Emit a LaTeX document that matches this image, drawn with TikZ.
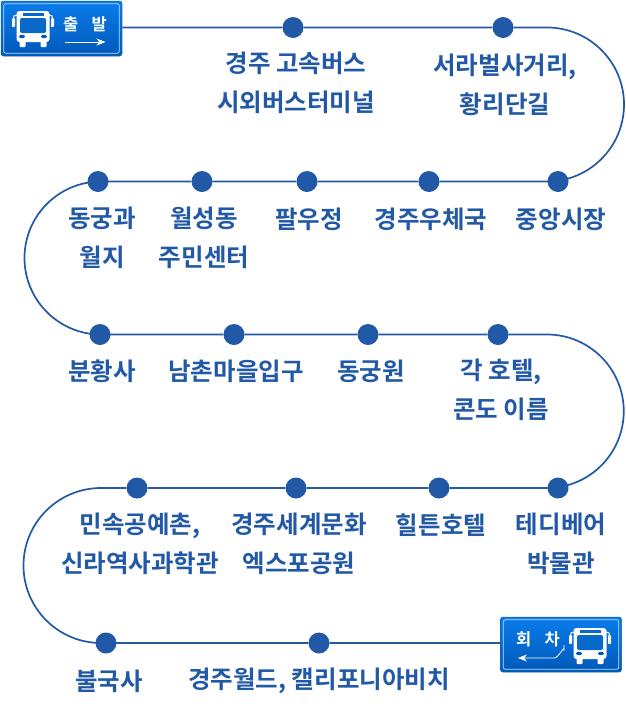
\documentclass[tikz,border=0pt]{standalone}
\usepackage{fontspec}
\setmainfont{Noto Sans CJK KR}[BoldFont={* Bold}]
\usepackage{xcolor}
\usetikzlibrary{arrows.meta}
\definecolor{routeblue}{HTML}{2259A6}
\definecolor{boxtop}{HTML}{0A7CEC}
\definecolor{boxbottom}{HTML}{0059B8}
\tikzstyle{route} = [draw=routeblue, line width=1.7pt]
\tikzstyle{stopdot} = [circle, fill=routeblue, minimum size=21pt, inner sep=0]
\tikzstyle{stoplabel} = [text=routeblue, font=\fontsize{24.5}{38.5}\selectfont\bfseries, align=center, inner sep=0]
\tikzstyle{busbox} = [rectangle, rounded corners=2.5pt, top color=boxtop, bottom color=boxbottom, draw=boxtop!80!black, line width=0.5pt, minimum width=121pt, minimum height=55pt]
\tikzstyle{boxline} = [draw=white!75!boxtop, line width=0.7pt, rounded corners=2pt]
\tikzstyle{boxlabel} = [text=white, font=\fontsize{16.5}{16.5}\selectfont\bfseries, inner sep=0]
\tikzstyle{boxarrow} = [draw=white, line width=0.8pt, -{Stealth[length=9pt,width=7pt]}]
\tikzset{
  busicon/.pic={
    \fill[white, rounded corners=3pt] (-16.5,-18) rectangle (16.5,13);
    \fill[white, rounded corners=1pt] (-13.5,10) rectangle (-7.5,18);
    \fill[white, rounded corners=1pt] (7.5,10) rectangle (13.5,18);
    \fill[boxtop!85!black, rounded corners=2pt] (-13,-11) rectangle (13,4);
    \fill[boxtop!85!black] (-10.5,-16) rectangle (10.5,-13);
    \fill[boxbottom] (-11,7.5) ellipse (3 and 1.7);
    \fill[boxbottom] (11,7.5) ellipse (3 and 1.7);
    \draw[white, line width=1pt] (-16,-14) -- (-19,-13) -- (-19.5,-10);
    \draw[white, line width=1pt] (16,-14) -- (19,-13) -- (19.5,-10);
    \fill[white, rounded corners=1pt] (-21,-11) rectangle (-18,-2);
    \fill[white, rounded corners=1pt] (18,-11) rectangle (21,-2);
  }
}
\begin{document}
\begin{tikzpicture}[x=1pt, y=-1pt]
\useasboundingbox (0,0) rectangle (626,721);
% start and end boxes
\node [busbox] (depart) at (61.5,28.5) {};
\node [busbox] (turn) at (561,644.5) {};
\draw [boxline] ([shift={(3,3)}]depart.north west) rectangle ([shift={(-3,-3)}]depart.south east);
\draw [boxline] ([shift={(3,3)}]turn.north west) rectangle ([shift={(-3,-3)}]turn.south east);
\pic at (33,29) {busicon};
\pic at (590,646) {busicon};
\node [boxlabel] (departtext) at (85,24.5) {출\hspace{0.8em}발};
\node [boxlabel] (turntext) at (538,639) {회\hspace{0.8em}차};
\coordinate (departa) at (65,42);
\coordinate (departb) at (105.5,42);
\draw [boxarrow] (departa) -- (departb);
\coordinate (turna) at (564,645);
\coordinate (turnb) at (518,658);
\draw [boxarrow] (turna) -- (564,650) to[out=90,in=0] (554,658) -- (turnb);
% stops
\node [stopdot] (bus) at (293,27.5) {};
\node [stopdot] (seorabeol) at (503,27.5) {};
\node [stopdot] (market) at (558,181.5) {};
\node [stopdot] (post) at (429,181.5) {};
\node [stopdot] (palujeong) at (307,181.5) {};
\node [stopdot] (wolseong) at (202,181.5) {};
\node [stopdot] (donggung) at (98,181.5) {};
\node [stopdot] (bunhwang) at (100,334.5) {};
\node [stopdot] (namchon) at (234,334.5) {};
\node [stopdot] (garden) at (368,334.5) {};
\node [stopdot] (hotel) at (498,334.5) {};
\node [stopdot] (teddy) at (558,488) {};
\node [stopdot] (hilton) at (439,488) {};
\node [stopdot] (expo) at (296,488) {};
\node [stopdot] (folk) at (137,488) {};
\node [stopdot] (bulguk) at (106,643) {};
\node [stopdot] (world) at (319,643) {};
% route
\coordinate (bendea) at (547,27.5);
\coordinate (bendwa) at (101,181.5);
\coordinate (bendeb) at (547,334.5);
\coordinate (bendwb) at (101,488);
\draw [route] (depart.east |- bus) -- (bus) -- (seorabeol) -- (bendea)
    arc [start angle=-90, end angle=90, radius=77] -- (market) -- (post) -- (palujeong) -- (wolseong) -- (bendwa)
    arc [start angle=-90, end angle=-270, radius=76.5] -- (namchon) -- (garden) -- (hotel) -- (bendeb)
    arc [start angle=-90, end angle=90, radius=76.75] -- (teddy) -- (hilton) -- (expo) -- (folk) -- (bendwb)
    arc [start angle=-90, end angle=-270, radius=77.5] -- (world) -- (turn.west |- world);
% labels
\node [stoplabel] (busl) at (296,83) {경주 고속버스\\시외버스터미널};
\node [stoplabel] (seorabeoll) at (505,85) {서라벌사거리,\\황리단길};
\node [stoplabel] (marketl) at (561,219) {중앙시장};
\node [stoplabel] (postl) at (431,219) {경주우체국};
\node [stoplabel] (palujeongl) at (309,219) {팔우정};
\node [stoplabel] (wolseongl) at (204,238) {월성동\\주민센터};
\node [stoplabel] (donggungl) at (102,238) {동궁과\\월지};
\node [stoplabel] (bunhwangl) at (102,371) {분황사};
\node [stoplabel] (namchonl) at (236,371) {남촌마을입구};
\node [stoplabel] (gardenl) at (371,371) {동궁원};
\node [stoplabel] (hotell) at (501,390) {각 호텔,\\콘도 이름};
\node [stoplabel] (teddyl) at (561,544) {테디베어\\박물관};
\node [stoplabel] (hiltonl) at (441,525) {힐튼호텔};
\node [stoplabel] (expol) at (299,544) {경주세계문화\\엑스포공원};
\node [stoplabel] (folkl) at (140,544) {민속공예촌,\\신라역사과학관};
\node [stoplabel] (bulgukl) at (109,681) {불국사};
\node [stoplabel] (worldl) at (319,681) {경주월드, 캘리포니아비치};
\end{tikzpicture}
\end{document}
